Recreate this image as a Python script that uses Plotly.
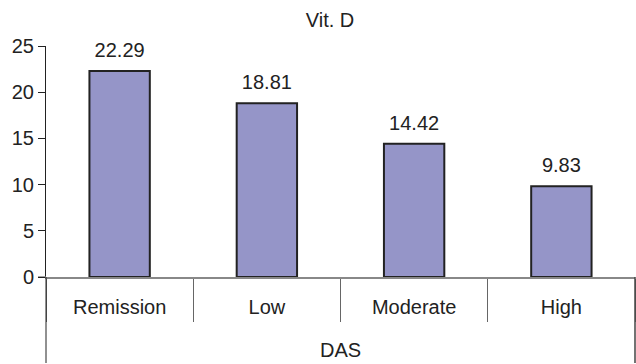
import plotly.graph_objects as go

categories = ["Remission", "Low", "Moderate", "High"]
group = "DAS"
values = [22.29, 18.81, 14.42, 9.83]
labels = ["22.29", "18.81", "14.42", "9.83"]
title = "Vit. D"

FAM = "Liberation Sans, Arial, sans-serif"
font = dict(family=FAM, size=20, color="#222222")

fig = go.Figure()
fig.add_trace(go.Bar(
    x=categories, y=values,
    marker=dict(color="#9595C8", line=dict(color="#222222", width=2)),
    width=0.41, hoverinfo="skip", cliponaxis=False,
))
fig.add_trace(go.Scatter(
    x=categories, y=values, mode="markers+text", text=labels,
    textposition="top center", textfont=font, cliponaxis=False,
    marker=dict(size=13, opacity=0), hoverinfo="skip",
))

# paper-y of bottom edge of the axis box (363 px) relative to plot area (46..277)
bottom = -(363 - 277) / (277 - 46)
fig.update_layout(
    width=636, height=364,
    margin=dict(l=46, r=1, t=46, b=87, autoexpand=False),
    paper_bgcolor="white", plot_bgcolor="white",
    showlegend=False, font=font,
    title=dict(text=title, x=330 / 636, xanchor="center", y=1 - 20 / 364, yanchor="middle",
               font=dict(family=FAM, size=20, color="#222222")),
    shapes=[
        dict(type="line", xref="paper", yref="paper", x0=0, x1=0, y0=bottom, y1=0,
             line=dict(color="#222222", width=1)),
        dict(type="line", xref="paper", yref="paper", x0=1, x1=1, y0=bottom, y1=0,
             line=dict(color="#444444", width=1.5)),
        dict(type="line", xref="paper", yref="y", x0=-8 / 589, x1=0, y0=0, y1=0,
             line=dict(color="#888888", width=1.5)),
    ],
)
fig.update_xaxes(
    type="category", automargin=False, showline=True, linecolor="#888888", linewidth=1.5,
    ticks="outside", tickson="boundaries", ticklen=43, tickcolor="#666666", tickwidth=1,
    ticklabelstandoff=11, tickfont=font, showgrid=False,
    title=dict(text=group, font=font, standoff=26),
)
fig.update_yaxes(
    automargin=False, range=[0, 25], dtick=5, showline=True, linecolor="#222222", linewidth=1,
    ticks="outside", ticklen=7, tickcolor="#222222", tickfont=font,
    showgrid=False, zeroline=False,
)
fig.write_html(
    "out.html",
    config={"displayModeBar": False},
    post_script="document.body.style.margin='0';document.body.style.overflow='hidden';",
)
